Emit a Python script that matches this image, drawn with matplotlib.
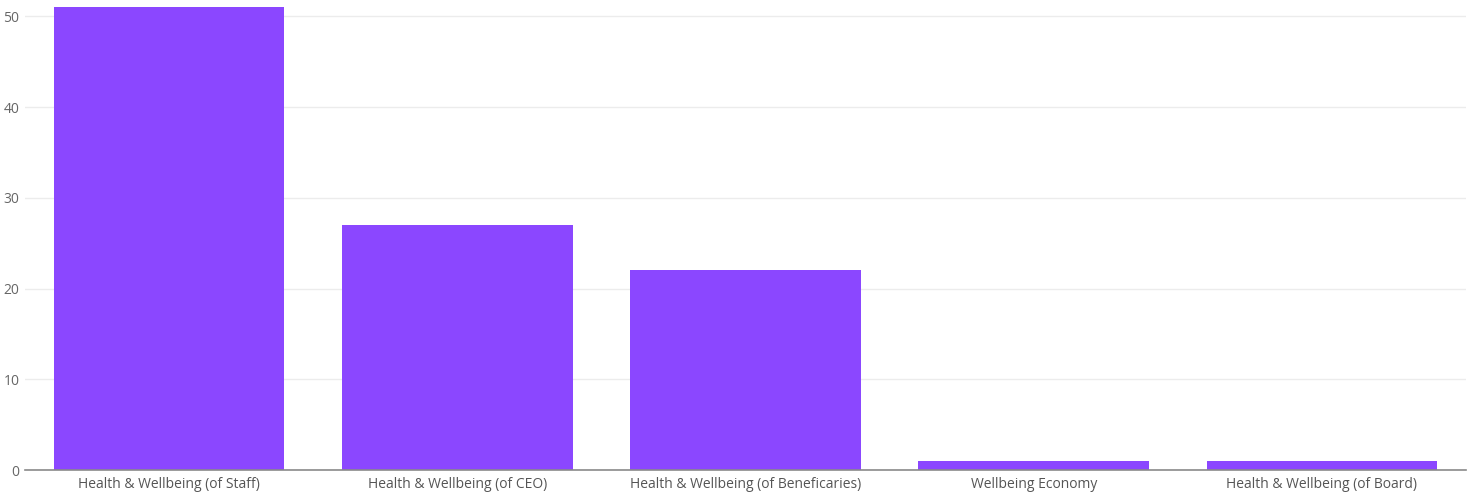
import matplotlib.pyplot as plt
import numpy as np

categories = ['Health & Wellbeing (of Staff)', 'Health & Wellbeing (of CEO)',
              'Health & Wellbeing (of Beneficaries)', 'Wellbeing Economy',
              'Health & Wellbeing (of Board)']
counts = [51, 27, 22, 1, 1]
y_ticks = [0, 10, 20, 30, 40, 50]

plt.rcParams['font.family'] = ['Open Sans', 'DejaVu Sans']

fig = plt.figure(figsize=(14.76, 4.92), dpi=100)
ax = fig.add_axes([25 / 1476, 22 / 492, 1441 / 1476, 470 / 492])

x = np.arange(len(categories))
ax.bar(x, counts, width=0.8, color='#8B47FF', zorder=3)

ax.set_xlim(-0.5, len(categories) - 0.5)
ax.set_ylim(0, 51.8)
ax.set_yticks(y_ticks)
ax.set_xticks(x)
ax.set_xticklabels(categories)

ax.grid(axis='y', color='#ececec', linewidth=1, zorder=0)
for s in ['top', 'right', 'left']:
    ax.spines[s].set_visible(False)
ax.spines['bottom'].set_color('#8a8a8a')
ax.spines['bottom'].set_linewidth(1.2)
ax.spines['bottom'].set_zorder(4)

ax.tick_params(axis='y', length=0, pad=4, labelsize=10, labelcolor='#666666')
ax.tick_params(axis='x', length=0, pad=5, labelsize=10, labelcolor='#555555')

fig.savefig('out.png', dpi=100)
